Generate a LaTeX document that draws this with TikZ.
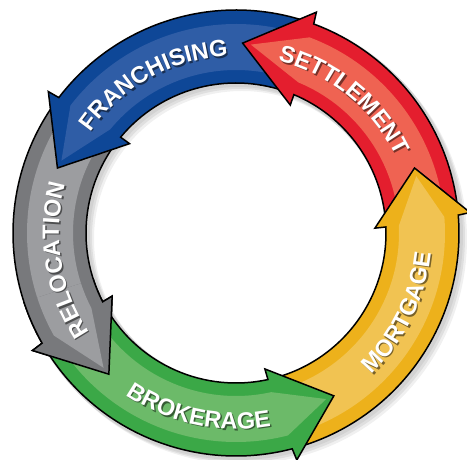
\documentclass[tikz,border=0pt]{standalone}
\usepackage{fontspec}
\setmainfont{Liberation Sans}
\usetikzlibrary{decorations.text}

\definecolor{setdark}{HTML}{E41E2E}
\definecolor{setlight}{HTML}{EF6352}
\definecolor{mordark}{HTML}{EDB11B}
\definecolor{morlight}{HTML}{F1C352}
\definecolor{brodark}{HTML}{3BA847}
\definecolor{brolight}{HTML}{6CBA69}
\definecolor{reldark}{HTML}{78797C}
\definecolor{rellight}{HTML}{9C9DA0}
\definecolor{frandark}{HTML}{0E4797}
\definecolor{franlight}{HTML}{2F5DA6}

\newcommand{\labelfont}{\fontsize{23.5}{23.5}\selectfont\bfseries}

% one curved arrow of the ring: tail angle, head base angle, tip angle, colours
\newcommand{\ringarrow}[5]{%
  \filldraw[#4,draw=black,line width=1.5pt] (#1:223pt) arc[start angle=#1,end angle=#2+2.6,radius=223pt]
    -- (#2+3:235pt) -- (#3:190pt) -- (#2:139pt) -- (#2+0.3:150pt)
    arc[start angle=#2+0.3,end angle=#1,radius=150pt] -- cycle;
  \fill[#5] (#1:209pt) arc[start angle=#1,end angle=#2+2.4,radius=209pt]
    -- (#3-2.5:189pt) -- (#2+0.5:163pt)
    arc[start angle=#2+0.5,end angle=#1,radius=163pt] -- cycle;
}

% white label along an arc, with a dark shadow
\newcommand{\ringlabel}[4]{%
  \begin{scope}[opacity=0.5,shift={(1.5pt,-1.5pt)}]
    \path[decorate,decoration={text along path,text align=center,text color=black,text={|\labelfont|#4}}]
      (#1:#3) arc[start angle=#1,end angle=#2,radius=#3];
  \end{scope}
  \path[decorate,decoration={text along path,text align=center,text color=white,text={|\labelfont|#4}}]
    (#1:#3) arc[start angle=#1,end angle=#2,radius=#3];
}

\begin{document}
\begin{tikzpicture}[x=1pt,y=1pt]
  \useasboundingbox (-236,-227) rectangle (231,233);
  % soft shadow under the ring
  \foreach \d/\s in {2/0.06,4/0.07,6/0.06}
    \fill[black,opacity=\s,even odd rule] (\d,-\d) circle[radius=225pt] (\d,-\d) circle[radius=148pt];
  % arrows, each head lying on the tail of the next one
  \ringarrow{143.5}{207}{228}{reldark}{rellight}
  \ringarrow{70.5}{140}{160}{frandark}{franlight}
  \ringarrow{5.5}{67}{88}{setdark}{setlight}
  \ringarrow{-74.5}{2}{20}{mordark}{morlight}
  \ringarrow{210.5}{282}{301}{brodark}{brolight}
  \begin{scope}
    \clip (0,0) -- (198:260pt) arc[start angle=198,end angle=236,radius=260pt] -- cycle;
    \ringarrow{143.5}{207}{228}{reldark}{rellight}
  \end{scope}
  % labels
  \ringlabel{159}{79}{177pt}{FRANCHISING}
  \ringlabel{91}{11}{177pt}{SETTLEMENT}
  \ringlabel{229}{149}{177pt}{RELOCATION}
  \ringlabel{-66}{14}{196pt}{MORTGAGE}
  \ringlabel{218}{298}{196pt}{BROKERAGE}
\end{tikzpicture}
\end{document}
